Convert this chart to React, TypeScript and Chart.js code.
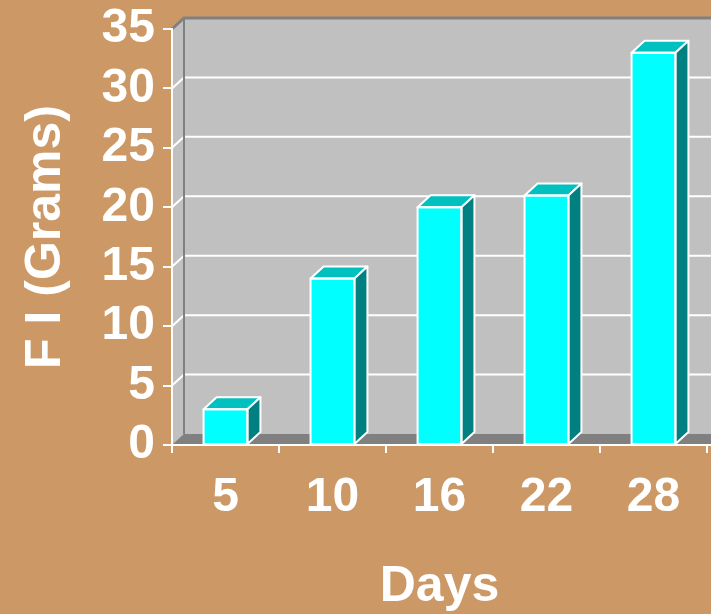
import React, { useEffect, useRef } from "react";
import { Chart, registerables } from "chart.js";

Chart.register(...registerables);

const categories = ["5", "10", "16", "22", "28"];
const values = [3, 14, 20, 21, 33];
const yMin = 0;
const yMax = 35;
const yStep = 5;
const yTitle = "F I (Grams)";
const xTitle = "Days";

const BG = "#CC9966";
const WALL = "#C0C0C0";
const EDGE = "#808080";
const FRONT = "#00FFFF";
const TOPC = "#00C0C0";
const SIDE = "#008080";
const WDX = 12;
const WDY = -11;
const BDX = 13;
const BDY = -12;
const FONT = "'Liberation Sans', Arial, sans-serif";

const threeD = {
  id: "threeD",
  beforeDraw(chart: any) {
    const { ctx, chartArea: a, scales } = chart;
    const ys = scales.y;
    const L = a.left;
    const R = a.right;
    const top = ys.getPixelForValue(yMax);
    const bot = ys.getPixelForValue(yMin);
    ctx.save();
    ctx.fillStyle = BG;
    ctx.fillRect(0, 0, chart.width, chart.height);
    // side wall
    ctx.fillStyle = WALL;
    ctx.beginPath();
    ctx.moveTo(L, top);
    ctx.lineTo(L + WDX, top + WDY);
    ctx.lineTo(L + WDX, bot + WDY);
    ctx.lineTo(L, bot);
    ctx.closePath();
    ctx.fill();
    // back wall
    ctx.fillRect(L + WDX, top + WDY, R - L + 10, bot - top);
    // floor
    ctx.fillStyle = EDGE;
    ctx.beginPath();
    ctx.moveTo(L, bot);
    ctx.lineTo(L + WDX, bot + WDY);
    ctx.lineTo(R + WDX + 10, bot + WDY);
    ctx.lineTo(R + 10, bot);
    ctx.closePath();
    ctx.fill();
    // gridlines
    ctx.strokeStyle = "#FFFFFF";
    ctx.lineWidth = 2;
    for (let v = yMin + yStep; v < yMax; v += yStep) {
      const py = ys.getPixelForValue(v);
      ctx.beginPath();
      ctx.moveTo(L, py);
      ctx.lineTo(L + WDX, py + WDY);
      ctx.lineTo(R + WDX + 10, py + WDY);
      ctx.stroke();
    }
    // edges
    ctx.strokeStyle = EDGE;
    ctx.lineWidth = 3;
    ctx.beginPath();
    ctx.moveTo(L, top);
    ctx.lineTo(L + WDX, top + WDY);
    ctx.lineTo(R + WDX + 10, top + WDY);
    ctx.stroke();
    ctx.lineWidth = 2;
    ctx.beginPath();
    ctx.moveTo(L + WDX, top + WDY);
    ctx.lineTo(L + WDX, bot + WDY);
    ctx.stroke();
    // x axis line extends to the right edge
    ctx.strokeStyle = "#FFFFFF";
    ctx.beginPath();
    ctx.moveTo(L, bot);
    ctx.lineTo(chart.width, bot);
    ctx.stroke();
    ctx.restore();
  },
  afterDatasetsDraw(chart: any) {
    const { ctx } = chart;
    const meta = chart.getDatasetMeta(0);
    ctx.save();
    ctx.strokeStyle = "#FFFFFF";
    ctx.lineWidth = 2;
    ctx.lineJoin = "round";
    meta.data.forEach((bar: any) => {
      const { x, y, base, width } = bar.getProps(["x", "y", "base", "width"], true);
      const l = x - width / 2;
      const r = x + width / 2;
      ctx.fillStyle = TOPC;
      ctx.beginPath();
      ctx.moveTo(l, y);
      ctx.lineTo(l + BDX, y + BDY);
      ctx.lineTo(r + BDX, y + BDY);
      ctx.lineTo(r, y);
      ctx.closePath();
      ctx.fill();
      ctx.stroke();
      ctx.fillStyle = SIDE;
      ctx.beginPath();
      ctx.moveTo(r, y);
      ctx.lineTo(r + BDX, y + BDY);
      ctx.lineTo(r + BDX, base + BDY);
      ctx.lineTo(r, base);
      ctx.closePath();
      ctx.fill();
      ctx.stroke();
      ctx.strokeRect(l, y, width, base - y);
    });
    ctx.restore();
  },
};

export default function App() {
  const ref = useRef<HTMLCanvasElement | null>(null);
  useEffect(() => {
    if (!ref.current) return;
    const chart = new Chart(ref.current, {
      type: "bar",
      data: {
        labels: categories,
        datasets: [
          {
            data: values,
            backgroundColor: FRONT,
            borderColor: "#FFFFFF",
            borderWidth: 0,
            barPercentage: 0.41,
            categoryPercentage: 1,
          },
        ],
      },
      options: {
        animation: false,
        responsive: true,
        maintainAspectRatio: false,
        events: [],
        layout: { padding: { top: 29, right: 4, left: 0, bottom: 0 } },
        plugins: {
          legend: { display: false },
          tooltip: { enabled: false },
          title: { display: false },
        },
        scales: {
          x: {
            grid: {
              display: true,
              drawOnChartArea: false,
              drawTicks: true,
              tickLength: 8,
              color: "#FFFFFF",
              lineWidth: 2,
            },
            border: { display: true, color: "#FFFFFF", width: 2 },
            ticks: {
              color: "#FFFFFF",
              font: { family: FONT, size: 48, weight: "bold" },
              padding: 16,
              autoSkip: false,
              maxRotation: 0,
            },
            title: {
              display: true,
              text: xTitle,
              color: "#FFFFFF",
              font: { family: FONT, size: 50, weight: "bold" },
              padding: { top: 0, bottom: -3 },
            },
            afterFit(scale: any) {
              scale.height = 169;
              scale.paddingLeft = 0;
              scale.paddingRight = 0;
            },
          },
          y: {
            min: yMin,
            max: yMax,
            grid: {
              display: true,
              drawOnChartArea: false,
              drawTicks: true,
              tickLength: 9,
              color: "#FFFFFF",
              lineWidth: 2,
            },
            border: { display: true, color: "#FFFFFF", width: 2 },
            ticks: {
              stepSize: yStep,
              autoSkip: false,
              color: "#FFFFFF",
              font: { family: FONT, size: 48, weight: "bold" },
              padding: 8,
            },
            title: {
              display: true,
              text: yTitle,
              color: "#FFFFFF",
              font: { family: FONT, size: 50, weight: "bold" },
              padding: { top: 16, bottom: 0 },
            },
            afterFit(scale: any) {
              scale.width = 172;
              scale.paddingTop = 0;
              scale.paddingBottom = 0;
            },
          },
        },
      },
      plugins: [threeD],
    });
    return () => chart.destroy();
  }, []);
  return (
    <div style={{ position: "absolute", left: 0, top: 0, width: 711, height: 614, background: BG }}>
      <canvas ref={ref} />
    </div>
  );
}
